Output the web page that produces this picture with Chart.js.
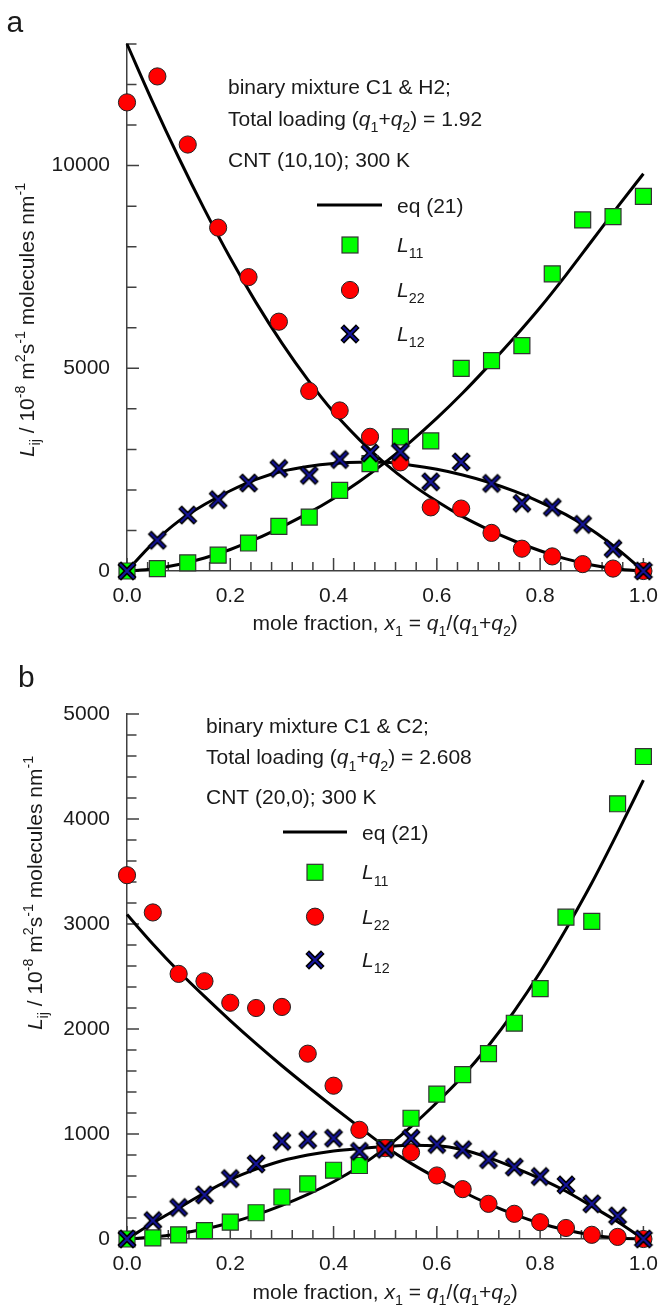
<!DOCTYPE html>
<html>
<head>
<meta charset="utf-8">
<script src="https://cdn.jsdelivr.net/npm/chart.js@4.4.1/dist/chart.umd.min.js"></script>
<style>
  html, body { margin: 0; padding: 0; background: #fff; }
  #wrap { position: relative; width: 671px; height: 1306px; overflow: hidden; }
  canvas { position: absolute; left: 0; }
  #cA { top: 0; }
  #cB { top: 650px; }
</style>
</head>
<body>
<div id="wrap">
  <canvas id="cA" width="671" height="650"></canvas>
  <canvas id="cB" width="671" height="656"></canvas>
</div>
<script>
// ---------- Panel a: C1 & H2 in CNT (10,10), q1+q2 = 1.92 ----------
const xA = [0, 0.0588, 0.1176, 0.1765, 0.2353, 0.2941, 0.3529, 0.4118, 0.4706,
            0.5294, 0.5882, 0.6471, 0.7059, 0.7647, 0.8235, 0.8824, 0.9412, 1.0];
const L11A = [0, 60, 200, 390, 690, 1100, 1330, 1990, 2650, 3310, 3210, 5000, 5190, 5560, 7330, 8660, 8740, 9240];
const L22A = [11560, 12200, 10520, 8470, 7250, 6150, 4440, 3960, 3310, 2680, 1570, 1540, 940, 550, 360, 170, 60, 0];
const L12A = [0, 760, 1380, 1760, 2170, 2530, 2360, 2750, 2910, 2940, 2200, 2690, 2160, 1670, 1570, 1150, 550, 0];

// eq (21) curves, panel a
const xFit = [0, 0.05, 0.1, 0.15, 0.2, 0.25, 0.3, 0.35, 0.4, 0.45, 0.5,
              0.55, 0.6, 0.65, 0.7, 0.75, 0.8, 0.85, 0.9, 0.95, 1.0];
const fitA11 = [0, 50, 160, 320, 530, 790, 1090, 1420, 1790, 2210, 2680, 3200, 3770, 4390, 5060, 5760, 6500, 7300, 8140, 8980, 9800];
const fitA22 = [13000, 11560, 10200, 8920, 7720, 6620, 5620, 4720, 3920, 3240, 2650, 2150, 1720, 1340, 1020, 740, 500, 300, 150, 50, 0];
const fitA12 = [0, 680, 1230, 1640, 1980, 2260, 2460, 2580, 2650, 2680, 2680, 2610, 2510, 2370, 2190, 1970, 1700, 1390, 1010, 540, 0];

// ---------- Panel b: C1 & C2 in CNT (20,0), q1+q2 = 2.608 ----------
const xB = [0, 0.05, 0.1, 0.15, 0.2, 0.25, 0.3, 0.35, 0.4, 0.45, 0.5,
            0.55, 0.6, 0.65, 0.7, 0.75, 0.8, 0.85, 0.9, 0.95, 1.0];
const L11B = [0, 10, 40, 80, 160, 250, 400, 525, 655, 700, 870, 1150, 1380, 1565, 1765, 2055, 2385, 3065, 3025, 4145, 4595];
const L22B = [3465, 3110, 2525, 2455, 2250, 2200, 2210, 1765, 1460, 1040, 865, 825, 605, 475, 335, 240, 160, 105, 40, 20, 0];
const L12B = [0, 175, 300, 420, 575, 715, 930, 945, 960, 835, 855, 960, 900, 850, 755, 685, 595, 515, 335, 220, 0];

const fitB11 = [0, 18, 50, 95, 155, 230, 320, 425, 545, 690, 865, 1070, 1300, 1550, 1840, 2170, 2540, 2950, 3390, 3870, 4370];
const fitB22 = [3090, 2810, 2550, 2310, 2080, 1860, 1650, 1450, 1255, 1065, 880, 720, 580, 450, 335, 235, 150, 85, 38, 10, 0];
const fitB12 = [0, 152, 295, 438, 565, 665, 745, 800, 838, 862, 880, 893, 888, 850, 775, 680, 575, 455, 312, 165, 0];

// ---------- styling ----------
const FAMILY = '"Liberation Sans", Arial, Helvetica, sans-serif';
const TEXT = '#1a1a1a';
const AXIS = '#404040';
const GREEN = '#00ff00';
const RED = '#ff0000';
const NAVY = '#14149c';
const SQ_R = 11.3;   // rect point radius -> 16 px side
const CI_R = 8.6;

// X marker: thick black cross with a navy core
function makeCross() {
  const c = document.createElement('canvas');
  c.width = 22; c.height = 22;
  const g = c.getContext('2d');
  const m = 11, a = 7;
  const path = (r) => {
    g.beginPath();
    g.moveTo(m - r, m - r); g.lineTo(m + r, m + r);
    g.moveTo(m + r, m - r); g.lineTo(m - r, m + r);
  };
  g.lineCap = 'butt';
  g.strokeStyle = '#000'; g.lineWidth = 5.2; path(a + 0.8); g.stroke();
  g.strokeStyle = NAVY; g.lineWidth = 2; path(a); g.stroke();
  return c;
}
const CROSS = makeCross();

const pts = (xs, ys) => xs.map((x, i) => ({ x: x, y: ys[i] }));

function rich(ctx, parts, x, y, size, align) {
  const fontFor = (st) => (st.indexOf('i') >= 0 ? 'italic ' : '') +
    ((st.indexOf('b') >= 0 || st.indexOf('p') >= 0) ? (size * 0.68).toFixed(1) : size) + 'px ' + FAMILY;
  let total = 0;
  parts.forEach(([t, st]) => { ctx.font = fontFor(st); total += ctx.measureText(t).width; });
  let cx = align === 'center' ? x - total / 2 : x;
  ctx.textAlign = 'left';
  ctx.textBaseline = 'alphabetic';
  parts.forEach(([t, st]) => {
    ctx.font = fontFor(st);
    const dy = st.indexOf('b') >= 0 ? size * 0.3 : (st.indexOf('p') >= 0 ? -size * 0.4 : 0);
    ctx.fillText(t, cx, y + dy);
    cx += ctx.measureText(t).width;
  });
}

const Y_TITLE = [['L', 'i'], ['ij', 'b'], [' / 10', ''], ['-8', 'p'], [' m', ''], ['2', 'p'], ['s', ''], ['-1', 'p'], [' molecules nm', ''], ['-1', 'p']];
const X_TITLE = [['mole fraction, ', ''], ['x', 'i'], ['1', 'b'], [' = ', ''], ['q', 'i'], ['1', 'b'], ['/(', ''], ['q', 'i'], ['1', 'b'], ['+', ''], ['q', 'i'], ['2', 'b'], [')', '']];

function decor(d) {
  return {
    id: 'decor',
    beforeDatasetsDraw(chart) {
      const ctx = chart.ctx, xs = chart.scales.x, ys = chart.scales.y;
      ctx.save();
      ctx.strokeStyle = AXIS; ctx.lineWidth = 1.5;
      ctx.beginPath();
      xs.ticks.forEach(t => {
        const px = xs.getPixelForValue(t.value);
        const len = t.label ? 13 : 9;
        ctx.moveTo(px, xs.top); ctx.lineTo(px, xs.top - len);
      });
      ys.ticks.forEach(t => {
        const py = ys.getPixelForValue(t.value);
        const len = t.label ? 12 : 9.5;
        ctx.moveTo(ys.right, py); ctx.lineTo(ys.right + len, py);
      });
      ctx.stroke();
      ctx.restore();
    },
    afterDraw(chart) {
      const ctx = chart.ctx, area = chart.chartArea;
      ctx.save();
      ctx.fillStyle = TEXT;
      // panel letter
      ctx.font = '30px ' + FAMILY;
      ctx.textAlign = 'left'; ctx.textBaseline = 'alphabetic';
      ctx.fillText(d.letter, d.letterX, d.letterY);
      // notes
      d.notes.forEach((n, i) => rich(ctx, n, d.noteX, d.noteY[i], 21, 'left'));
      // legend
      ctx.strokeStyle = '#000'; ctx.lineWidth = 3;
      ctx.beginPath(); ctx.moveTo(d.lg.lineX0, d.lg.y[0]); ctx.lineTo(d.lg.lineX1, d.lg.y[0]); ctx.stroke();
      rich(ctx, [['eq (21)', '']], d.lg.textX, d.lg.y[0] + 8, 21, 'left');
      const mx = d.lg.markX;
      const side = SQ_R * Math.SQRT1_2 * 2;
      ctx.fillStyle = GREEN; ctx.strokeStyle = '#333'; ctx.lineWidth = 1.2;
      ctx.fillRect(mx - side / 2, d.lg.y[1] - side / 2, side, side);
      ctx.strokeRect(mx - side / 2, d.lg.y[1] - side / 2, side, side);
      ctx.fillStyle = RED; ctx.strokeStyle = '#222'; ctx.lineWidth = 1;
      ctx.beginPath(); ctx.arc(mx, d.lg.y[2], CI_R, 0, Math.PI * 2); ctx.fill(); ctx.stroke();
      ctx.drawImage(CROSS, mx - CROSS.width / 2, d.lg.y[3] - CROSS.height / 2);
      ctx.fillStyle = TEXT;
      rich(ctx, [['L', 'i'], ['11', 'b']], d.lg.textX, d.lg.y[1] + 7, 21, 'left');
      rich(ctx, [['L', 'i'], ['22', 'b']], d.lg.textX, d.lg.y[2] + 7, 21, 'left');
      rich(ctx, [['L', 'i'], ['12', 'b']], d.lg.textX, d.lg.y[3] + 7, 21, 'left');
      // axis titles
      rich(ctx, X_TITLE, (area.left + area.right) / 2, d.xTitleY, 21, 'center');
      ctx.save();
      ctx.translate(d.yTitleX, d.yTitleY);
      ctx.rotate(-Math.PI / 2);
      rich(ctx, Y_TITLE, 0, 0, 21, 'center');
      ctx.restore();
      ctx.restore();
    }
  };
}

function datasets(xd, l11, l22, l12, f11, f22, f12) {
  const curve = (ys) => ({
    data: pts(xFit, ys), showLine: true, borderColor: '#000', borderWidth: 3,
    pointRadius: 0, cubicInterpolationMode: 'monotone', order: 10, clip: false
  });
  return [
    curve(f11), curve(f22), curve(f12),
    { data: pts(xd, l11), pointStyle: 'rect', pointRadius: SQ_R, backgroundColor: GREEN,
      borderColor: '#333', borderWidth: 1.2, order: 3, clip: false },
    { data: pts(xd, l22), pointStyle: 'circle', pointRadius: CI_R, backgroundColor: RED,
      borderColor: '#222', borderWidth: 1, order: 2, clip: false },
    { data: pts(xd, l12), pointStyle: CROSS, pointRadius: 8, order: 1, clip: false }
  ];
}

function build(canvas, ds, yMax, yStep, yMajor, padTop, xHeight, d) {
  return new Chart(canvas, {
    type: 'scatter',
    data: { datasets: ds },
    options: {
      responsive: false, animation: false, devicePixelRatio: 1,
      layout: { padding: { left: 0, right: 18, top: padTop, bottom: 0 } },
      plugins: { legend: { display: false }, tooltip: { enabled: false } },
      events: [],
      scales: {
        x: {
          type: 'linear', min: 0, max: 1,
          afterFit: (s) => { s.height = xHeight; },
          grid: { display: false, drawTicks: false },
          border: { display: true, color: AXIS, width: 1.5 },
          ticks: {
            stepSize: 0.04, autoSkip: false, maxRotation: 0, padding: 13,
            color: TEXT, font: { family: FAMILY, size: 21 },
            callback: (v) => Math.abs(v * 5 - Math.round(v * 5)) < 1e-6 ? v.toFixed(1) : ''
          }
        },
        y: {
          type: 'linear', min: 0, max: yMax,
          afterFit: (s) => { s.width = 127; },
          grid: { display: false, drawTicks: false },
          border: { display: true, color: AXIS, width: 1.5 },
          ticks: {
            stepSize: yStep, autoSkip: false, padding: 17,
            color: TEXT, font: { family: FAMILY, size: 21 },
            callback: (v) => (Math.round(v) % yMajor === 0 ? String(Math.round(v)) : '')
          }
        }
      }
    },
    plugins: [decor(d)]
  });
}

build(document.getElementById('cA'),
  datasets(xA, L11A, L22A, L12A, fitA11, fitA22, fitA12),
  13000, 1000, 5000, 44, 79, {
    letter: 'a', letterX: 6.5, letterY: 31.7,
    noteX: 228, noteY: [94, 126, 166.5],
    notes: [
      [['binary mixture C1 & H2;', '']],
      [['Total loading (', ''], ['q', 'i'], ['1', 'b'], ['+', ''], ['q', 'i'], ['2', 'b'], [') = 1.92', '']],
      [['CNT (10,10); 300 K', '']]
    ],
    lg: { lineX0: 317, lineX1: 382, textX: 397, markX: 350, y: [205, 245, 290, 334] },
    xTitleY: 630, yTitleX: 33.5, yTitleY: 320
  });

build(document.getElementById('cB'),
  datasets(xB, L11B, L22B, L12B, fitB11, fitB22, fitB12),
  5000, 200, 1000, 64, 67, {
    letter: 'b', letterX: 18, letterY: 36.7,
    noteX: 206, noteY: [82.7, 114.3, 154],
    notes: [
      [['binary mixture C1 & C2;', '']],
      [['Total loading (', ''], ['q', 'i'], ['1', 'b'], ['+', ''], ['q', 'i'], ['2', 'b'], [') = 2.608', '']],
      [['CNT (20,0); 300 K', '']]
    ],
    lg: { lineX0: 283, lineX1: 347, textX: 362, markX: 315, y: [182, 222.3, 266.7, 310] },
    xTitleY: 649, yTitleX: 41.7, yTitleY: 243
  });
</script>
</body>
</html>
